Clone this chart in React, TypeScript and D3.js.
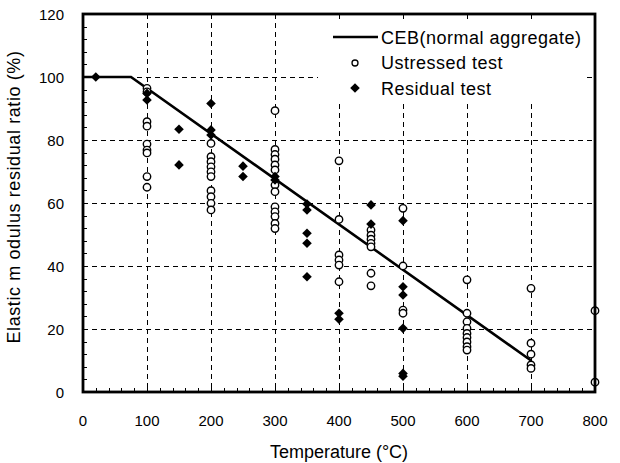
import React from "react";
import * as d3 from "d3";

const WIDTH = 620;
const HEIGHT = 463;
const PLOT = { LEFT: 83, RIGHT: 595, TOP: 14, BOTTOM: 392 };
const FONT = "'Liberation Sans', Arial, sans-serif";

// x ticks (°C) and y ticks (%)
const xTicks = [0, 100, 200, 300, 400, 500, 600, 700, 800];
const yTicks = [0, 20, 40, 60, 80, 100, 120];

// CEB (normal aggregate) curve
const cebLine: [number, number][] = [
  [0, 100],
  [75, 100],
  [700, 10],
];

// Ustressed test (open markers) [temperature, ratio]
const unstressedData: [number, number][] = [
  [100, 96.4], [100, 95.3], [100, 85.8], [100, 84.4], [100, 78.7], [100, 76.8], [100, 75.9], [100, 68.4], [100, 65.0],
  [200, 78.9], [200, 74.7], [200, 73.1], [200, 71.5], [200, 69.9], [200, 68.4], [200, 63.9], [200, 62.0], [200, 59.9], [200, 57.8],
  [300, 89.3], [300, 77.0], [300, 75.4], [300, 73.9], [300, 72.1], [300, 70.5], [300, 65.7], [300, 63.6], [300, 58.8], [300, 57.2], [300, 55.7], [300, 53.5], [300, 51.9],
  [400, 73.4], [400, 54.8], [400, 43.5], [400, 41.9], [400, 40.3], [400, 35.0],
  [450, 51.4], [450, 49.8], [450, 48.5], [450, 47.2], [450, 46.1], [450, 37.7], [450, 33.7],
  [500, 58.3], [500, 40.0], [500, 26.0], [500, 25.0],
  [600, 35.6], [600, 25.0], [600, 22.3], [600, 20.2], [600, 18.6], [600, 17.3], [600, 15.9], [600, 14.4], [600, 13.3],
  [700, 32.9], [700, 15.5], [700, 12.0], [700, 8.6], [700, 7.5],
  [800, 25.8], [800, 3.1],
];

// Residual test (filled markers) [temperature, ratio]
const residualData: [number, number][] = [
  [20, 100],
  [100, 94.8], [100, 92.7],
  [150, 83.4], [150, 72.1],
  [200, 91.6], [200, 83.2], [200, 81.6],
  [250, 71.7], [250, 68.4],
  [300, 68.4], [300, 67.3],
  [350, 59.7], [350, 57.8], [350, 50.4], [350, 47.2], [350, 36.6],
  [400, 25.0], [400, 23.1],
  [450, 59.4], [450, 53.3],
  [500, 54.4], [500, 33.4], [500, 30.8], [500, 20.2], [500, 5.9], [500, 5.0],
];

const legendItems = ["CEB(normal aggregate)", "Ustressed test", "Residual test"];

const App: React.FC = () => {
  const x = d3.scaleLinear().domain([0, 800]).range([PLOT.LEFT, PLOT.RIGHT]);
  const y = d3.scaleLinear().domain([0, 120]).range([PLOT.BOTTOM, PLOT.TOP]);
  // crisp 1px lines
  const px = (v: number) => Math.round(v) + 0.5;

  const line = d3
    .line<[number, number]>()
    .x((d) => x(d[0]))
    .y((d) => y(d[1]));

  const diamond = d3.symbol(d3.symbolSquare, 46)() as string;

  const xMinor = d3.range(0, 801, 20);
  const yMinor = d3.range(0, 121, 4);

  // legend box covers part of the grid
  const legend = { x0: 318, x1: 586, y0: 19, y1: 100 };

  return (
    <svg
      width={WIDTH}
      height={HEIGHT}
      style={{ position: "absolute", left: 0, top: 0, background: "#fff" }}
      fontFamily={FONT}
    >
      <rect width={WIDTH} height={HEIGHT} fill="#fff" />

      {/* grid */}
      <g stroke="#000" strokeWidth={1} strokeDasharray="5,4" shapeRendering="crispEdges">
        {xTicks.slice(1, -1).map((t) => (
          <line key={"gx" + t} x1={px(x(t))} x2={px(x(t))} y1={PLOT.TOP} y2={PLOT.BOTTOM} />
        ))}
        {yTicks.slice(1, -1).map((t) => (
          <line key={"gy" + t} x1={PLOT.LEFT} x2={PLOT.RIGHT} y1={px(y(t))} y2={px(y(t))} />
        ))}
      </g>

      {/* legend background */}
      <rect
        x={legend.x0}
        y={legend.y0}
        width={legend.x1 - legend.x0}
        height={legend.y1 - legend.y0}
        fill="#fff"
      />

      {/* minor ticks */}
      <g stroke="#000" strokeWidth={1} shapeRendering="crispEdges">
        {xMinor.map((t) => (
          <line key={"mx" + t} x1={px(x(t))} x2={px(x(t))} y1={PLOT.BOTTOM} y2={PLOT.BOTTOM - 4} />
        ))}
        {yMinor.map((t) => (
          <line key={"my" + t} x1={PLOT.LEFT} x2={PLOT.LEFT + 4} y1={px(y(t))} y2={px(y(t))} />
        ))}
      </g>

      {/* CEB line */}
      <path d={line(cebLine) as string} fill="none" stroke="#000" strokeWidth={2.6} />

      {/* unstressed */}
      {unstressedData.map((d, i) => (
        <circle
          key={"u" + i}
          cx={x(d[0])}
          cy={y(d[1])}
          r={3.7}
          fill="#fff"
          stroke="#000"
          strokeWidth={1.4}
        />
      ))}

      {/* residual */}
      {residualData.map((d, i) => (
        <path
          key={"r" + i}
          d={diamond}
          transform={`translate(${x(d[0])},${y(d[1])}) rotate(45)`}
          fill="#000"
        />
      ))}

      {/* frame */}
      <rect
        x={PLOT.LEFT}
        y={PLOT.TOP}
        width={PLOT.RIGHT - PLOT.LEFT}
        height={PLOT.BOTTOM - PLOT.TOP}
        fill="none"
        stroke="#000"
        strokeWidth={2.8}
      />

      {/* tick labels */}
      <g fontSize={15} fill="#000">
        {xTicks.map((t) => (
          <text key={"xl" + t} x={x(t)} y={PLOT.BOTTOM + 34} textAnchor="middle">
            {t}
          </text>
        ))}
        {yTicks.map((t) => (
          <text key={"yl" + t} x={PLOT.LEFT - 19} y={y(t) + 5.5} textAnchor="end">
            {t}
          </text>
        ))}
      </g>

      {/* axis titles */}
      <text x={339} y={458} textAnchor="middle" fontSize={18}>
        Temperature (°C)
      </text>
      <text
        transform={`translate(20,197) rotate(-90)`}
        textAnchor="middle"
        fontSize={18}
        letterSpacing={0.6}
      >
        Elastic m odulus residual ratio (%)
      </text>

      {/* legend */}
      <g fontSize={18} letterSpacing={0.5}>
        <line x1={333} x2={378} y1={37} y2={37} stroke="#000" strokeWidth={2.4} />
        <circle cx={355} cy={63} r={3} fill="#fff" stroke="#000" strokeWidth={1.3} />
        <path d={diamond} transform="translate(355,88) rotate(45)" fill="#000" />
        {legendItems.map((label, i) => (
          <text key={label} x={381} y={37 + i * 25.5 + 6.5}>
            {label}
          </text>
        ))}
      </g>
    </svg>
  );
};

export default App;
